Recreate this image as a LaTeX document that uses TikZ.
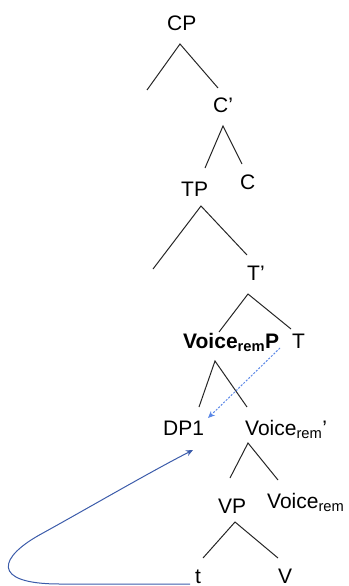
\documentclass[tikz,border=0pt]{standalone}
\usepackage{fontspec}
\setmainfont{Liberation Sans}
\usetikzlibrary{arrows.meta}
\definecolor{mvblue}{RGB}{60,92,170}
\definecolor{dotblue}{RGB}{90,135,230}
\tikzset{
  lbl/.style={anchor=base west, inner sep=0pt, font=\fontsize{21}{25}\selectfont},
  branch/.style={line width=1pt, draw=black!85},
  mvcurve/.style={line width=1pt, draw=mvblue, -{Stealth[length=7pt,width=6pt]}},
  mvdot/.style={line width=1pt, draw=dotblue, dash pattern=on 2pt off 1.5pt, -{Stealth[length=7pt,width=6pt]}}
}
\begin{document}
\begin{tikzpicture}[x=1pt,y=-1pt]
\useasboundingbox (0,0) rectangle (348,586);
% labels
\node[lbl] (CP) at (167,31) {CP};
\node[lbl] (Cbar) at (213,112) {C’};
\node[lbl] (TP) at (181,196) {TP};
\node[lbl] (C) at (240,189) {C};
\node[lbl] (Tbar) at (247,280) {T’};
\node[lbl] (VoiceP) at (183,348) {\bfseries Voice\textsubscript{rem}P};
\node[lbl] (T) at (292,348) {T};
\node[lbl] (DP) at (163,435) {DP1};
\node[lbl] (Vbar) at (245,435) {Voice\textsubscript{rem}’};
\node[lbl] (VP) at (218,513) {VP};
\node[lbl] (Vhead) at (267,508) {Voice\textsubscript{rem}};
\node[lbl] (t) at (195,583) {t};
\node[lbl] (V) at (278,583) {V};
% branch points
\coordinate (cpA) at (180,44);  \coordinate (cpL) at (147,90);  \coordinate (cpR) at (218,88);
\coordinate (cbA) at (223,126); \coordinate (cbL) at (205,168); \coordinate (cbR) at (242,164);
\coordinate (tpA) at (201,206); \coordinate (tpL) at (153,269); \coordinate (tpR) at (247,255);
\coordinate (tbA) at (248,294); \coordinate (tbL) at (219,332); \coordinate (tbR) at (291,329);
\coordinate (vpA) at (215,361); \coordinate (vpL) at (199,407); \coordinate (vpR) at (247,407);
\coordinate (vbA) at (248,443); \coordinate (vbL) at (230,478); \coordinate (vbR) at (278,480);
\coordinate (vA) at (235,522);  \coordinate (vL) at (203,558);  \coordinate (vR) at (278,558);
\draw[branch] (cpL) -- (cpA) -- (cpR);
\draw[branch] (cbL) -- (cbA) -- (cbR);
\draw[branch] (tpL) -- (tpA) -- (tpR);
\draw[branch] (tbL) -- (tbA) -- (tbR);
\draw[branch] (vpL) -- (vpA) -- (vpR);
\draw[branch] (vbL) -- (vbA) -- (vbR);
\draw[branch] (vL) -- (vA) -- (vR);
% movement arrows
\coordinate (dotS) at (280,348);
\coordinate (dotE) at (208,418);
\draw[mvdot] (dotS) -- (dotE);
\coordinate (curS) at (190,584);
\coordinate (curE) at (193,450);
\draw[mvcurve] (curS) -- (60,584) .. controls (-10,584) and (-2,557) .. (43,533)
  .. controls (90,507) and (150,472) .. (curE);
\end{tikzpicture}
\end{document}
